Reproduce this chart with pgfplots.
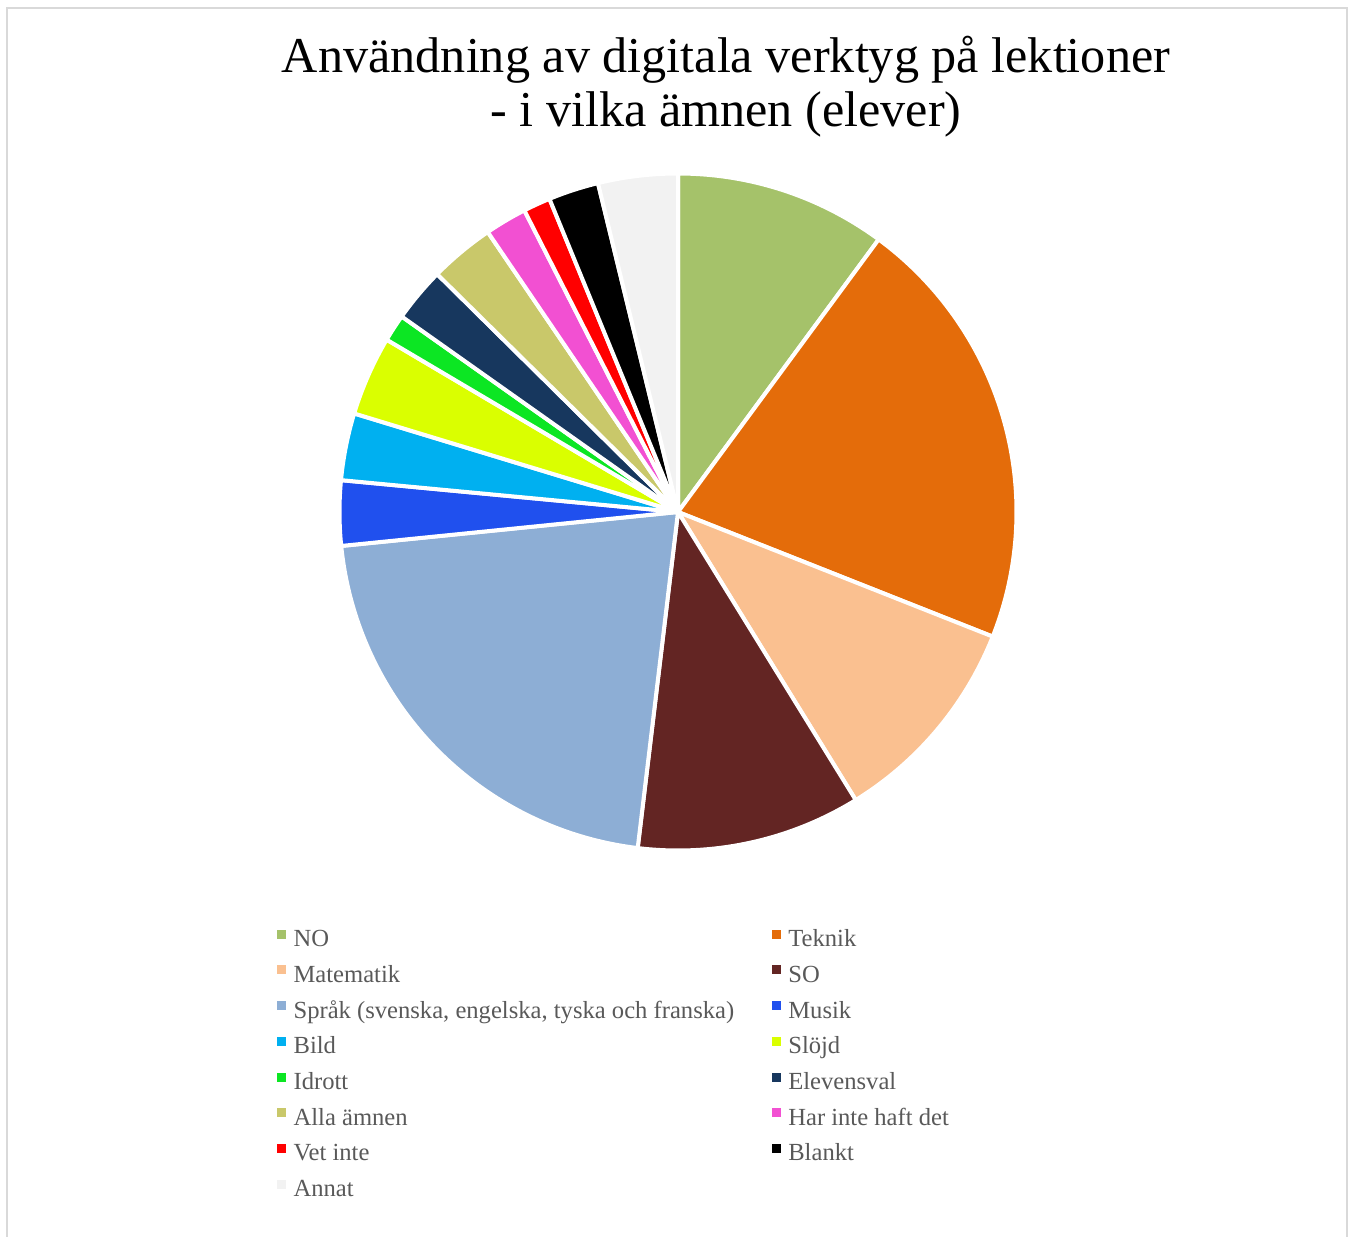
\documentclass[border=0pt]{standalone}
\usepackage{pgfplots}
\pgfplotsset{compat=1.18}
\usepackage{fontspec}
\setmainfont{Liberation Serif}

\definecolor{cNO}{HTML}{A5C26A}
\definecolor{cTeknik}{HTML}{E46C0A}
\definecolor{cMatematik}{HTML}{FAC090}
\definecolor{cSO}{HTML}{632523}
\definecolor{cSprak}{HTML}{8DAED5}
\definecolor{cMusik}{HTML}{2050EE}
\definecolor{cBild}{HTML}{00B0F0}
\definecolor{cSlojd}{HTML}{DAFF00}
\definecolor{cIdrott}{HTML}{0CE623}
\definecolor{cElevensval}{HTML}{17375E}
\definecolor{cAlla}{HTML}{C9C86A}
\definecolor{cHarinte}{HTML}{F250D2}
\definecolor{cVetinte}{HTML}{FF0000}
\definecolor{cBlankt}{HTML}{000000}
\definecolor{cAnnat}{HTML}{F2F2F2}
\definecolor{legendgray}{HTML}{595959}
\definecolor{framegray}{HTML}{D9D9D9}

% share (in percent) of each subject, clockwise from 12 o'clock
\newcommand\cumul{0}
\newcommand\pieslice[2]{%
  \pgfmathsetmacro\sa{\cumul*3.6}%
  \pgfmathsetmacro\sb{(\cumul+#1)*3.6}%
  \edef\doslice{\noexpand\addplot[fill=#2, draw=white, line width=2pt, line join=round,
     domain=\sa:\sb, samples=80] ({sin(x)},{cos(x)}) -- (axis cs:0,0) -- cycle;}%
  \doslice
  \pgfmathsetmacro\newcum{\cumul+#1}%
  \global\let\cumul\newcum
}

\begin{document}
\begin{tikzpicture}
\path[use as bounding box] (0,0) rectangle (676pt,618pt);
\draw[framegray, line width=1.25pt] (3.5pt,-5pt) -- (3.5pt,614pt) -- (673.5pt,614pt) -- (673.5pt,-5pt);

\node[anchor=base, font=\fontsize{25.1}{30}\selectfont] at (363pt,581.5pt) {Användning av digitala verktyg på lektioner};
\node[anchor=base, font=\fontsize{25.1}{30}\selectfont] at (363pt,554.5pt) {- i vilka ämnen (elever)};

\begin{axis}[
  at={(169.75pt,192.75pt)}, anchor=south west,
  width=338.5pt, height=338.5pt, scale only axis,
  xmin=-1, xmax=1, ymin=-1, ymax=1,
  hide axis, clip=false,
  legend columns=2,
  legend cell align=left,
  legend image code/.code={\path[#1, draw=none] (0pt,1.25pt) rectangle (4.5pt,5.75pt);},
  legend style={at={(-0.0923,-0.117)}, anchor=north west, draw=none, fill=none,
    inner sep=0pt, outer sep=0pt, row sep=6.35pt,
    font=\fontsize{12.3}{14}\selectfont, text=legendgray,
    nodes={inner sep=0pt, text height=8.5pt, text depth=3pt},
    /tikz/every odd column/.append style={column sep=3.8pt},
    /tikz/every even column/.append style={column sep=18.75pt}},
]
\pieslice{10.1}{cNO}
\pieslice{20.9}{cTeknik}
\pieslice{10.2}{cMatematik}
\pieslice{10.7}{cSO}
\pieslice{21.5}{cSprak}
\pieslice{3.1}{cMusik}
\pieslice{3.2}{cBild}
\pieslice{3.8}{cSlojd}
\pieslice{1.3}{cIdrott}
\pieslice{2.6}{cElevensval}
\pieslice{3.1}{cAlla}
\pieslice{2.0}{cHarinte}
\pieslice{1.3}{cVetinte}
\pieslice{2.4}{cBlankt}
\pieslice{3.8}{cAnnat}
\legend{NO, Teknik, Matematik, SO, {Språk (svenska, engelska, tyska och franska)}, Musik, Bild, Slöjd, Idrott, Elevensval, Alla ämnen, Har inte haft det, Vet inte, Blankt, Annat}
\end{axis}
\end{tikzpicture}
\end{document}
